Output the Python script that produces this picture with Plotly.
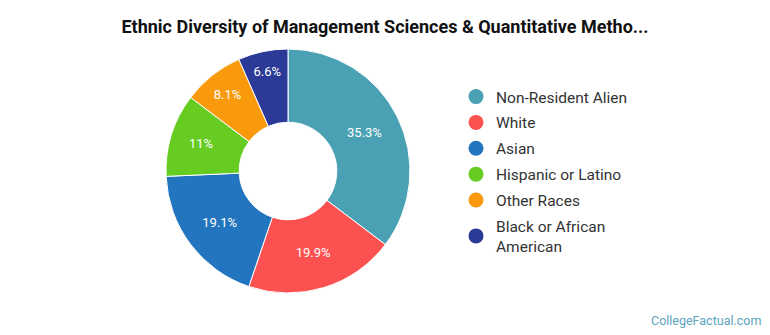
import plotly.graph_objects as go

categories = ["Non-Resident Alien", "White", "Asian", "Hispanic or Latino", "Other Races", "Black or African<br>American"]
values = [35.3, 19.9, 19.1, 11, 8.1, 6.6]
labels_text = ["35.3%", "19.9%", "19.1%", "11%", "8.1%", "6.6%"]
colors = ["#4aa1b4", "#fc5151", "#2275be", "#66cc22", "#f99a0d", "#2b3a96"]

W, H = 770, 335
cx, cy, R = 288, 171, 122

fig = go.Figure()
fig.add_trace(go.Pie(
    labels=categories, values=values, text=labels_text,
    texttemplate="%{text}", textposition="inside",
    insidetextorientation="horizontal",
    textfont=dict(family="Roboto", size=13, color="white"),
    marker=dict(colors=colors, line=dict(color="white", width=1)),
    hole=0.4, sort=False, direction="clockwise", rotation=0,
    showlegend=False, hoverinfo="label+percent",
    domain=dict(x=[(cx - R) / W, (cx + R) / W], y=[(H - cy - R) / H, (H - cy + R) / H]),
))

for i, (cat, col) in enumerate(zip(categories, colors)):
    fig.add_trace(go.Scatter(
        x=[None], y=[None], mode="markers", name=cat,
        marker=dict(symbol="circle", size=15, color=col),
        legendgroup=f"g{i}", showlegend=True,
    ))

fig.update_layout(
    width=W, height=H,
    margin=dict(l=0, r=0, t=0, b=0),
    paper_bgcolor="white", plot_bgcolor="white",
    xaxis=dict(visible=False), yaxis=dict(visible=False),
    title=dict(text="<b>Ethnic Diversity of Management Sciences & Quantitative Metho...</b>",
               x=0.5, xanchor="center", y=1 - 27 / H, yanchor="middle",
               font=dict(family="Roboto", size=18, color="#111")),
    legend=dict(x=456 / W, xanchor="left", y=1 - 80 / H, yanchor="top",
                font=dict(family="Roboto", size=15.5, color="#333"),
                tracegroupgap=2.7, itemclick=False, bgcolor="rgba(0,0,0,0)"),
    annotations=[dict(text="CollegeFactual.com", x=1, y=0, xref="paper", yref="paper",
                      xanchor="right", yanchor="bottom", xshift=-7, yshift=5, showarrow=False,
                      font=dict(family="Roboto", size=12.5, color="#5ba4bd"))],
)

fig.write_html("out.html")
